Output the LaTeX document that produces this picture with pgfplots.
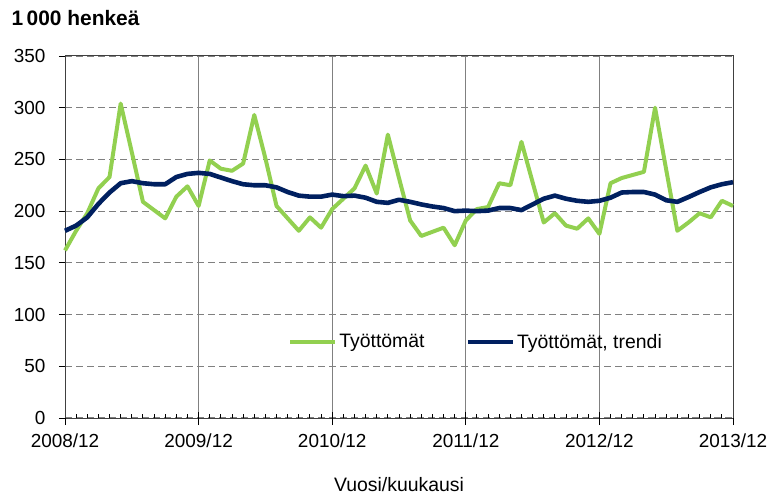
\documentclass[border=0pt]{standalone}
\usepackage{fontspec}
\setmainfont{Liberation Sans}
\usepackage{pgfplots}
\pgfplotsset{compat=1.18}
\definecolor{lgreen}{RGB}{146,208,80}
\definecolor{navy}{RGB}{0,32,96}
\definecolor{gridgray}{RGB}{128,128,128}
\begin{document}
\begin{tikzpicture}
\useasboundingbox (0,0) rectangle (772bp,497bp);
\begin{axis}[
  at={(65bp,79bp)}, anchor=south west,
  width=668bp, height=362bp, scale only axis,
  xmin=0, xmax=60, ymin=0, ymax=350,
  xtick={0,12,24,36,48,60},
  xticklabels={2008/12,2009/12,2010/12,2011/12,2012/12,2013/12},
  minor x tick num=11,
  extra x ticks={0,12,24,36,48,60},
  extra x tick labels={},
  extra x tick style={xtick align=outside, major tick length=7bp, grid=none},
  ytick={0,50,...,350},
  xtick align=inside,
  ytick align=outside,
  major tick length=6bp,
  minor tick length=4bp,
  xtick pos=bottom, ytick pos=left,
  tick style={black, line width=0.9pt},
  axis line style={black!75, line width=1pt},
  xmajorgrids, ymajorgrids,
  x grid style={gridgray, line width=1pt},
  y grid style={gridgray, line width=1.2pt, dash pattern=on 7bp off 4bp},
  /pgf/number format/assume math mode=true,
  /pgf/number format/1000 sep={},
  ticklabel style={font=\fontsize{19}{22}\selectfont},
  xticklabel style={anchor=center, yshift=-23bp},
  yticklabel style={anchor=east, xshift=-10bp},
  xlabel={Vuosi/kuukausi},
  xlabel style={font=\fontsize{19.5}{22}\selectfont, at={(axis description cs:0.5,-0.185)}, anchor=center},
  legend style={at={(0.334,0.21)}, anchor=west, draw=none, fill=none,
    inner xsep=0pt, inner ysep=0pt,
    font=\fontsize{19.5}{22}\selectfont, legend columns=2,
    /tikz/every even column/.append style={column sep=39bp}},
  legend image code/.code={\draw[#1] (0bp,0bp) -- (45bp,0bp);},
  clip=false,
]
\addplot[lgreen, line width=4pt, line join=round] coordinates {
(0,162)(1,181)(2,198)(3,222)(4,233)(5,304)(6,257)(7,209)(8,201)(9,193)
(10,214)(11,224)(12,205)(13,249)(14,241)(15,239)(16,246)(17,293)(18,251)(19,205)
(20,193)(21,181)(22,194)(23,184)(24,202)(25,212)(26,222)(27,244)(28,217)(29,274)
(30,232)(31,191)(32,176)(33,180)(34,184)(35,167)(36,191)(37,202)(38,204)(39,227)
(40,225)(41,267)(42,228)(43,189)(44,198)(45,186)(46,183)(47,193)(48,178)(49,227)
(50,232)(51,235)(52,238)(53,300)(54,240)(55,181)(56,189)(57,198)(58,194)(59,210)
(60,205)};
\addlegendentry{Työttömät}
\addplot[navy, line width=4.6pt, line join=round] coordinates {
(0,181)(1,186)(2,194)(3,207)(4,218)(5,227)(6,229)(7,227)(8,226)(9,226)
(10,233)(11,236)(12,237)(13,236)(14,232.5)(15,229)(16,226)(17,225)(18,225)(19,223)
(20,218.5)(21,215)(22,214)(23,214)(24,216)(25,214.5)(26,215)(27,213)(28,209)(29,208)
(30,211)(31,209)(32,206.5)(33,204.5)(34,203)(35,200)(36,200.5)(37,200)(38,200.5)(39,203)
(40,203)(41,201)(42,206.5)(43,212)(44,215)(45,212)(46,210)(47,209)(48,210)(49,213)
(50,218)(51,218.5)(52,218.5)(53,216)(54,210.5)(55,209)(56,213.6)(57,218.5)(58,223)(59,226)
(60,228)};
\addlegendentry{Työttömät, trendi}
\end{axis}
\node[anchor=west, font=\fontsize{21}{25}\selectfont\bfseries] at (8bp,479bp) {1\,000 henkeä};
\end{tikzpicture}
\end{document}
